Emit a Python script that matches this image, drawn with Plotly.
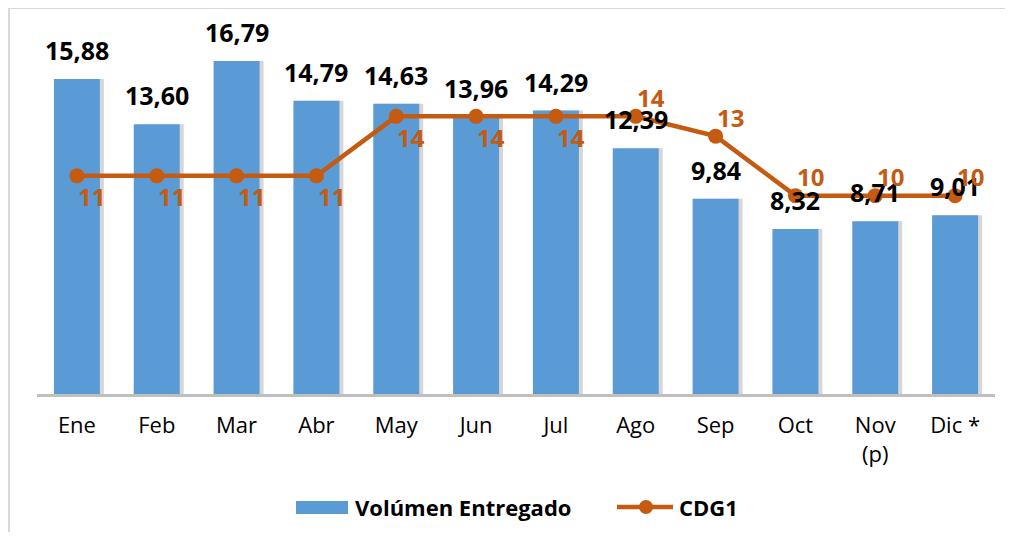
import plotly.graph_objects as go

months = ["Ene", "Feb", "Mar", "Abr", "May", "Jun", "Jul", "Ago", "Sep", "Oct", "Nov<br>(p)", "Dic *"]
volumen = [15.88, 13.60, 16.79, 14.79, 14.63, 13.96, 14.29, 12.39, 9.84, 8.32, 8.71, 9.01]
cdg1 = [11, 11, 11, 11, 14, 14, 14, 14, 13, 10, 10, 10]
vol_labels = ["15,88", "13,60", "16,79", "14,79", "14,63", "13,96", "14,29", "12,39", "9,84", "8,32", "8,71", "9,01"]
# label placement for CDG1: below-right for first months, above-right later
cdg_above = [False, False, False, False, False, False, False, True, True, True, True, True]

BLUE = "#5B9BD5"
ORANGE = "#C55A11"
FONT = "Open Sans"

W, H = 997, 524
ML, MR, MT, MB = 29, 10, 29, 138
PW, PH = W - ML - MR, H - MT - MB


def px(fx):
    return (fx - ML) / PW


def py(fy):
    return (H - MB - fy) / PH


fig = go.Figure()

# soft shadow behind bars
fig.add_trace(go.Bar(
    x=months, y=volumen, width=0.576, offset=-0.288 + 0.05,
    marker=dict(color="rgba(0,0,0,0.16)", line=dict(width=0)),
    showlegend=False, hoverinfo="skip"))

fig.add_trace(go.Bar(
    x=months, y=volumen, name="Volúmen Entregado", width=0.576, offset=-0.288,
    marker=dict(color=BLUE, line=dict(width=0)), showlegend=False))

fig.add_trace(go.Scatter(
    x=months, y=cdg1, name="CDG1", mode="lines+markers",
    line=dict(color=ORANGE, width=4.5),
    marker=dict(color=ORANGE, size=15), showlegend=False))

for m, v, t in zip(months, volumen, vol_labels):
    fig.add_annotation(x=m, y=v, text=f"<b>{t}</b>", showarrow=False,
                       yanchor="middle", yshift=29,
                       font=dict(family=FONT, size=25, color="black"))

for m, v, above in zip(months, cdg1, cdg_above):
    fig.add_annotation(x=m, y=v, text=f"<b>{v}</b>", showarrow=False,
                       xanchor="center", yanchor="middle",
                       xshift=15, yshift=(19 if above else -21),
                       font=dict(family=FONT, size=24, color=ORANGE))

# outer chart border (top and left edges visible)
fig.add_shape(type="line", xref="paper", yref="paper",
              x0=px(0), x1=px(W), y0=py(0), y1=py(0),
              line=dict(color="#D9D9D9", width=2))
fig.add_shape(type="line", xref="paper", yref="paper",
              x0=px(1), x1=px(1), y0=py(0), y1=py(H),
              line=dict(color="#D9D9D9", width=2))

# manual legend
fig.add_shape(type="rect", xref="paper", yref="paper",
              x0=px(288), x1=px(340), y0=py(506), y1=py(493),
              fillcolor=BLUE, line=dict(width=0))
fig.add_annotation(xref="paper", yref="paper", x=px(345), y=py(499),
                   xanchor="left", yanchor="middle", showarrow=False,
                   text="<b>Volúmen Entregado</b>",
                   font=dict(family=FONT, size=22, color="black"))
fig.add_shape(type="line", xref="paper", yref="paper",
              x0=px(609), x1=px(665), y0=py(499), y1=py(499),
              line=dict(color=ORANGE, width=4.5))
fig.add_shape(type="circle", xref="paper", yref="paper",
              x0=px(631), x1=px(645), y0=py(506), y1=py(492),
              fillcolor=ORANGE, line=dict(width=0))
fig.add_annotation(xref="paper", yref="paper", x=px(669), y=py(499),
                   xanchor="left", yanchor="middle", showarrow=False,
                   text="<b>CDG1</b>",
                   font=dict(family=FONT, size=22, color="black"))

fig.update_layout(
    width=W, height=H,
    margin=dict(l=ML, r=MR, t=MT, b=MB),
    plot_bgcolor="white", paper_bgcolor="white",
    barmode="overlay", showlegend=False,
    font=dict(family=FONT, size=22, color="black"),
    xaxis=dict(showline=True, linecolor="#BFBFBF", linewidth=3,
               ticks="", tickfont=dict(family=FONT, size=22, color="black"),
               ticklabelstandoff=10,
               showgrid=False, range=[-0.5, 11.5]),
    yaxis=dict(range=[0, 18], showgrid=False, showticklabels=False,
               zeroline=False, showline=False),
)

fig.write_html("out.html")
